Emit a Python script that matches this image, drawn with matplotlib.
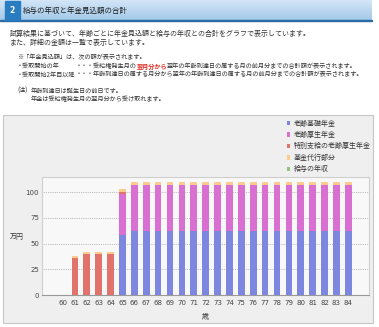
import matplotlib
matplotlib.use('Agg')
import matplotlib.pyplot as plt
from matplotlib.patches import Rectangle
import numpy as np

plt.rcParams['font.family'] = ['Noto Sans CJK JP', 'DejaVu Sans']

W, H = 379, 327

# ---- data ----
ages = list(range(60, 85))
kiso = [0, 0, 0, 0, 0, 58] + [62.5] * 19
kosei = [0, 0, 0, 0, 0, 40] + [44.5] * 19
tokubetsu = [0, 36, 40, 40, 40, 2.5] + [0] * 19
kikin = [0, 2.3, 2, 2, 2, 2.5] + [2.7] * 19
kyuyo = [0] * 25
series = [kiso, kosei, tokubetsu, kikin, kyuyo]
series_names = ['老齢基礎年金', '老齢厚生年金', '特別支給の老齢厚生年金', '基金代行部分', '給与の年収']
colors = ['#7d87df', '#d96fd0', '#e0736b', '#fbcb8f', '#93c47d']
yticks = [0, 25, 50, 75, 100]

section_no = '2'
title = '給与の年収と年金見込額の合計'
intro1 = '試算結果に基づいて、年齢ごとに年金見込額と給与の年収との合計をグラフで表示しています。'
intro2 = 'また、詳細の金額は一覧で表示しています。'
note0 = '※「年金見込額」は、次の額が表示されます。'
note1_head = '・受取開始の年'
note1_parts = [('・・・受給権発生月の', False), ('翌月分から', True),
               ('翌年の年齢到達日の属する月の前月分までの合計額が表示されます。', False)]
note2_head = '・受取開始2年目以降'
note2_body = '・・・年齢到達日の属する月分から翌年の年齢到達日の属する月の前月分までの合計額が表示されます。'
chu = '(注)'
chu1 = '年齢到達日は誕生日の前日です。'
chu2 = '年金は受給権発生月の翌月分から受け取れます。'
ylabel = '万円'
xlabel = '歳'

fig = plt.figure(figsize=(W / 100, H / 100), dpi=100)
fig.patch.set_facecolor('white')
bg = fig.add_axes([0, 0, 1, 1])
bg.set_xlim(0, W)
bg.set_ylim(H, 0)
bg.axis('off')

# header band
grad = np.linspace(0, 1, 40)[:, None, None]
top_c = np.array([0.83, 0.90, 0.97])
bot_c = np.array([0.64, 0.79, 0.91])
img = top_c * (1 - grad) + bot_c * grad
bg.imshow(img, extent=(0, 372, 20, 0.5), aspect='auto', interpolation='bilinear', zorder=1)
bg.add_patch(Rectangle((0, 19.8), 372, 1.3, color='#2c6aa6', zorder=2))
bg.add_patch(Rectangle((4.5, 0.5), 15.5, 19.3, color='#2a7cc0', zorder=3))
bg.text(12.2, 10.5, section_no, color='white', fontsize=5.5, fontweight='bold',
        ha='center', va='center', family='DejaVu Sans', zorder=4)
bg.text(23, 10.8, title, color='#1a1a1a', fontsize=5.4, ha='left', va='center', zorder=4)

txt_c = '#333333'
bg.text(10, 34, intro1, color=txt_c, fontsize=5.0, va='center')
bg.text(10, 43, intro2, color=txt_c, fontsize=5.0, va='center')
fs_n = 4.45
bg.text(17, 57, note0, color=txt_c, fontsize=fs_n, va='center')
bg.text(17, 66, note1_head, color=txt_c, fontsize=fs_n, va='center')
bg.text(17, 74.5, note2_head, color=txt_c, fontsize=fs_n, va='center')

r = fig.canvas.get_renderer()
meas = bg.text(17, 74.5, note2_head, fontsize=fs_n, alpha=0)
bb = meas.get_window_extent(renderer=r)
x_dots = 17 + bb.width
bg.text(x_dots, 74.5, note2_body, color=txt_c, fontsize=fs_n, va='center')
x = x_dots
for s, red in note1_parts:
    t = bg.text(x, 66, s, color=('#e0281e' if red else txt_c), fontsize=fs_n,
                fontweight=('bold' if red else 'normal'), va='center')
    x += t.get_window_extent(renderer=r).width

bg.text(17, 90.5, chu, color=txt_c, fontsize=fs_n, va='center')
bg.text(30.5, 90.5, chu1, color=txt_c, fontsize=fs_n, va='center')
bg.text(30.5, 99.5, chu2, color=txt_c, fontsize=fs_n, va='center')

# chart panel
bg.add_patch(Rectangle((3, 115), 370, 208, fc='#efefef', ec='#c6c6c6', lw=0.8, zorder=1))
bg.text(16.5, 237.5, ylabel, color=txt_c, fontsize=5.0, ha='center', va='center', zorder=3)
bg.text(205.7, 317, xlabel, color=txt_c, fontsize=5.0, ha='center', va='center', zorder=3)

# chart axes
ax = fig.add_axes([42 / W, 1 - 295 / H, 327 / W, 118 / H], zorder=5)
ax.set_facecolor('#f8f8f8')
ax.set_xlim(58.23, 85.74)
ax.set_ylim(0, 114.6)
bottom = np.zeros(len(ages))
handles = []
for vals, name, c in zip(series, series_names, colors):
    v = np.array(vals, dtype=float)
    b = ax.bar(ages, v, width=0.56, bottom=bottom, color=c, label=name, zorder=3, linewidth=0)
    handles.append(b)
    bottom += v
ax.set_yticks(yticks)
ax.set_xticks(ages)
ax.set_xticklabels([str(a) for a in ages])
ax.tick_params(axis='both', length=0, labelsize=5.0, colors='#444444')
ax.tick_params(axis='y', pad=2.2)
ax.tick_params(axis='x', pad=3.3)
for lab in ax.get_xticklabels() + ax.get_yticklabels():
    lab.set_family('DejaVu Sans')
for yv in yticks[1:]:
    ax.axhline(yv, color='#aaaaaa', lw=0.6, ls=(0, (1, 1.2)), zorder=1)
for sp in ['left', 'top', 'right']:
    ax.spines[sp].set_color('#cfcfcf')
    ax.spines[sp].set_linewidth(0.8)
ax.spines['bottom'].set_color('#999999')
ax.spines['bottom'].set_linewidth(0.8)

leg = fig.legend(handles=handles, labels=series_names, loc='upper left',
                 bbox_to_anchor=(286.5 / W, 1 - 119.5 / H), frameon=False, fontsize=5.0,
                 handlelength=0.55, handleheight=0.55, handletextpad=0.45,
                 labelspacing=0.5, borderpad=0, borderaxespad=0)
for t in leg.get_texts():
    t.set_color(txt_c)

fig.savefig('out.png', dpi=100, facecolor='white')
